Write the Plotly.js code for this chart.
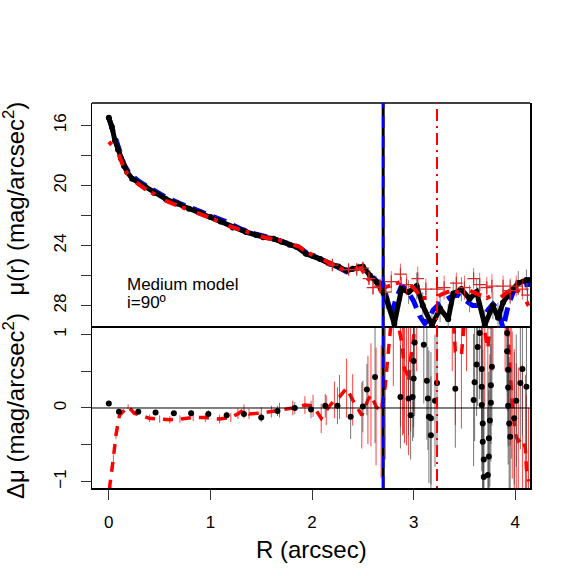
<!DOCTYPE html>
<html>
<head>
<meta charset="utf-8">
<script src="https://cdn.plot.ly/plotly-3.0.1.min.js"></script>
<style>
  body { margin: 0; background: #fff; }
  #grafica { width: 576px; height: 576px; }
</style>
</head>
<body>
<div id="grafica"></div>
<script>
// surface brightness profile (black points)
var R_obs  = [0.00,0.03,0.06,0.09,0.12,0.15,0.18,0.23,0.30,0.36,0.45,0.56,0.67,0.79,0.90,1.00,1.10,1.22,1.35,1.45,1.52,1.62,1.70,1.78,1.85,1.94,2.01,2.08,2.17,2.26,2.34,2.40,2.46,2.50,2.57,2.63,2.68,
              2.73,2.81,2.88,2.95,3.03,3.09,3.18,3.26,3.34,3.39,3.47,3.55,3.62,3.70,3.78,3.83,3.88,3.95,4.03,4.11,4.15];
var mu_obs = [15.5,16.1,17.0,17.6,18.2,18.7,19.1,19.55,19.85,20.1,20.5,20.9,21.2,21.55,21.8,22.1,22.4,22.8,23.1,23.3,23.44,23.55,23.75,23.95,24.1,24.55,24.7,24.9,25.2,25.4,25.67,25.55,25.45,25.4,26.0,26.4,26.9,
              27.55,29.2,26.9,27.1,26.7,28.0,29.3,28.2,28.9,27.2,26.9,27.55,27.1,29.3,28.0,28.8,27.8,27.1,26.5,26.3,26.3];
var err_obs = [0.03,0.03,0.03,0.03,0.03,0.03,0.03,0.03,0.03,0.03,0.03,0.03,0.03,0.03,0.03,0.03,0.03,0.03,0.04,0.04,0.05,0.05,0.05,0.06,0.06,0.07,0.08,0.1,0.12,0.15,0.2,0.2,0.25,0.3,0.35,0.4,0.5,
               0.7,0.9,0.8,0.8,0.9,0.9,1.0,0.9,1.0,0.8,0.8,0.9,0.9,1.0,0.9,1.0,0.9,0.8,0.8,0.7,0.7];

// model (blue)
var R_mod  = [0.00,0.03,0.06,0.10,0.15,0.20,0.30,0.40,0.55,0.70,0.85,1.00,1.15,1.30,1.45,1.60,1.75,1.85,1.95,2.08,2.20,2.34,2.42,2.50,2.57,2.64,2.70,
              2.74,2.78,2.83,2.88,2.93,3.00,3.06,3.11,3.16,3.19,3.25,3.37,3.44,3.52,3.58,3.67,3.73,3.78,3.83,3.88,3.93,3.98,4.04,4.11,4.15];
var mu_mod = [15.5,16.1,16.9,17.7,18.6,19.2,19.75,20.15,20.75,21.2,21.6,21.95,22.4,22.9,23.25,23.5,23.85,24.05,24.5,24.85,25.25,25.75,25.55,25.45,25.95,26.4,26.6,
              27.6,28.6,27.5,26.7,26.9,27.7,28.7,29.2,28.8,28.3,27.9,27.4,27.3,27.7,28.0,28.0,28.3,27.9,28.3,29.5,28.0,27.1,26.7,26.6,26.6];

// second profile (red dashed)
var R_red  = [0.00,0.06,0.10,0.14,0.18,0.25,0.35,0.45,0.55,0.68,0.80,0.92,1.05,1.18,1.30,1.42,1.55,1.68,1.80,1.87,1.96,2.05,2.15,2.25,2.33,2.40,2.48,2.55,2.60,2.66,
              2.72,2.80,2.88,2.95,3.01,3.08,3.14,3.23,3.29,3.37,3.44,3.52,3.62,3.72,3.78,3.85,3.92,4.00,4.08,4.13];
var mu_red = [17.1,17.5,18.0,18.7,19.2,19.7,20.2,20.6,21.0,21.35,21.65,21.95,22.3,22.7,22.95,23.2,23.5,23.65,23.95,24.05,24.5,24.75,25.1,25.45,25.7,25.6,25.5,26.2,26.6,26.9,
              26.8,26.6,26.4,26.5,26.9,27.5,27.5,27.4,27.2,27.0,27.1,26.9,27.2,27.5,27.3,27.5,27.1,26.9,27.3,28.0];

// red crosses
var R_plus   = [2.20,2.36,2.44,2.50,2.56,2.60,2.67,2.72,2.78,2.87,2.93,3.04,3.12,3.23,3.30,3.42,3.50,3.59,3.65,3.72,3.77,3.88,3.95,4.01,4.07,4.12];
var mu_plus  = [25.3,25.6,25.6,25.5,26.2,26.8,26.7,27.1,26.4,25.9,26.6,26.2,26.9,26.9,26.8,26.5,26.8,26.2,26.6,26.8,26.7,26.7,27.0,26.7,26.9,27.3];
var err_plus = [0.2,0.3,0.3,0.3,0.4,0.5,0.5,0.6,0.7,0.7,0.7,0.8,0.7,0.8,0.8,0.7,0.8,0.7,0.8,0.7,0.8,0.7,0.8,0.7,0.7,0.8];

// residuals (black)
var R_res  = [0.00,0.10,0.29,0.46,0.64,0.81,0.98,1.16,1.33,1.50,1.66,1.83,1.99,2.13,2.25,2.38,2.50,2.54,2.62,
              2.87,2.95,2.97,2.99,3.00,3.00,3.01,3.10,3.13,3.14,3.15,3.17,3.17,3.21,3.23,3.41,3.59,3.60,3.62,3.63,3.65,3.67,3.67,3.67,3.68,3.68,3.69,3.69,
              3.73,3.74,3.74,3.75,3.76,3.76,3.77,3.92,3.92,3.93,3.93,3.93,3.94,3.95,3.99,4.01,4.05,4.07,4.11];
var d_res  = [0.06,-0.05,-0.05,-0.06,-0.07,-0.07,-0.08,-0.10,-0.08,-0.13,-0.04,0.00,-0.02,0.03,0.03,-0.12,0.02,0.25,0.42,
              0.15,0.13,-0.10,0.15,0.40,0.64,0.89,0.86,0.37,0.13,-0.12,-0.14,-0.37,0.10,0.34,0.26,0.11,0.35,0.59,0.83,1.02,0.53,0.29,0.04,-0.21,-0.46,-0.70,-0.94,
              -0.91,-0.66,-0.41,-0.17,0.07,0.31,0.56,1.02,0.77,0.52,0.28,0.03,-0.21,-0.39,-0.14,0.10,0.34,0.53,0.29];
var err_res = [0.02,0.02,0.03,0.03,0.03,0.04,0.05,0.05,0.06,0.06,0.07,0.08,0.12,0.16,0.25,0.3,0.35,0.35,0.9,
               0.7,0.5,0.6,0.6,0.8,0.9,1.0,0.8,0.8,0.7,0.9,0.9,0.8,0.9,1.0,0.8,0.9,0.8,0.7,0.8,0.9,0.8,0.8,0.9,1.0,1.0,1.0,1.0,
               0.9,0.9,0.9,0.9,0.8,0.8,0.8,0.8,0.8,0.8,0.8,0.8,0.9,0.9,0.9,0.9,0.9,0.9,0.9];

// residuals (red dashed)
var R_rres  = [0.00,0.01,0.045,0.07,0.105,0.19,0.25,0.40,0.50,0.60,0.70,0.83,0.95,1.09,1.20,1.27,1.33,1.38,1.50,1.60,1.68,1.81,1.93,2.01,2.09,2.14,2.22,2.27,2.34,2.40,2.49,2.55,2.58,2.63,2.68,
               2.72,2.80,2.87,2.89,2.90,2.91,2.93,2.95,2.97,3.00,3.03,3.38,3.41,3.47,3.52,3.68,3.70,3.73,3.78,3.90,3.93,3.95,3.96,3.97,3.99,4.01,4.03,4.07,4.10,4.11,4.13];
var d_rres  = [-1.6,-1.05,-0.68,-0.37,-0.10,0.02,-0.07,-0.14,-0.15,-0.16,-0.15,-0.13,-0.13,-0.15,-0.13,-0.08,-0.02,-0.08,-0.07,-0.05,-0.03,0.00,0.04,0.03,-0.14,-0.03,0.11,0.15,0.27,0.11,-0.10,0.11,0.18,0.02,-0.05,
               0.30,1.50,0.95,0.83,0.65,0.52,0.49,0.36,0.68,0.95,1.50,1.50,0.77,0.72,1.50,1.50,1.04,0.81,1.50,1.50,0.95,0.49,0.31,0.04,-0.20,-0.39,-0.45,-0.41,-0.55,-0.82,-1.00];
var err_rres = [0.05,0.05,0.05,0.05,0.03,0.03,0.03,0.05,0.05,0.05,0.05,0.05,0.06,0.06,0.06,0.07,0.07,0.07,0.08,0.08,0.1,0.1,0.12,0.15,0.2,0.2,0.25,0.3,0.4,0.35,0.45,0.6,0.7,0.8,0.9,
                1.0,1.2,1.2,1.2,1.0,1.0,1.0,1.0,1.0,1.0,1.0,1.0,1.0,1.0,1.0,1.0,1.0,1.0,1.0,1.0,1.0,1.0,1.0,1.0,1.0,1.0,1.0,1.0,1.0,1.0,1.0];

var R_cut = 2.7, R_cut2 = 3.23;

var fnt = 'Liberation Sans, Arial, Helvetica, sans-serif';

var data = [
  { x: R_mod, y: mu_mod, xaxis: 'x2', yaxis: 'y2', type: 'scatter', mode: 'lines',
    line: { color: 'blue', width: 5, dash: '14px,8px' } },
  { x: R_obs, y: mu_obs, xaxis: 'x2', yaxis: 'y2', type: 'scatter', mode: 'lines+markers',
    line: { color: 'black', width: 5 }, marker: { color: 'black', size: 6 },
    error_y: { type: 'data', array: err_obs, color: 'rgba(80,80,80,0.7)', thickness: 1, width: 0 } },
  { x: R_red, y: mu_red, xaxis: 'x2', yaxis: 'y2', type: 'scatter', mode: 'lines',
    line: { color: 'red', width: 4, dash: '4px,12px,12px,6px' } },
  { x: R_plus, y: mu_plus, xaxis: 'x2', yaxis: 'y2', type: 'scatter', mode: 'markers',
    marker: { symbol: 'cross-thin-open', size: 9, line: { color: 'red', width: 1.2 } },
    error_y: { type: 'data', array: err_plus, color: 'rgba(255,0,0,0.6)', thickness: 1, width: 0 } },
  { x: R_rres, y: d_rres, xaxis: 'x', yaxis: 'y', type: 'scatter', mode: 'lines',
    line: { color: 'red', width: 3.5, dash: '10px,8px' },
    error_y: { type: 'data', array: err_rres, color: 'rgba(255,0,0,0.75)', thickness: 1, width: 0 } },
  { x: R_res, y: d_res, xaxis: 'x', yaxis: 'y', type: 'scatter', mode: 'markers',
    marker: { color: 'black', size: 6 },
    error_y: { type: 'data', array: err_res, color: 'rgba(60,60,60,0.7)', thickness: 1, width: 0 } }
];

var axBase = {
  showline: true, mirror: true, linecolor: 'black', linewidth: 1.5,
  showgrid: false, zeroline: false,
  ticks: 'outside', ticklen: 10, tickwidth: 1, tickcolor: '#333',
  tickfont: { family: fnt, size: 17, color: 'black' }, ticklabelstandoff: 8
};

var layout = {
  width: 576, height: 576,
  margin: { l: 92, r: 46, t: 103, b: 88 },
  paper_bgcolor: 'white', plot_bgcolor: 'white',
  showlegend: false,
  font: { family: fnt, color: 'black' },
  xaxis: Object.assign({}, axBase, { anchor: 'y', domain: [0, 1], range: [-0.1655, 4.145],
    tickvals: [0, 1, 2, 3, 4] }),
  xaxis2: Object.assign({}, axBase, { anchor: 'y2', domain: [0, 1], matches: 'x',
    showline: false, ticks: '', showticklabels: false }),
  yaxis: Object.assign({}, axBase, { anchor: 'x', domain: [0, 0.4156], range: [-1.088, 1.088],
    tickvals: [-1, 0, 1], ticktext: ['\u22121', '0', '1'], tickangle: -90,
    minor: { tickvals: [-0.5, 0.5], ticks: 'outside', ticklen: 10, tickwidth: 1, tickcolor: '#333', showgrid: false } }),
  yaxis2: Object.assign({}, axBase, { anchor: 'x2', domain: [0.4156, 1], range: [29.49, 14.51],
    tickvals: [16, 20, 24, 28], tickangle: -90,
    minor: { tickvals: [18, 22, 26], ticks: 'outside', ticklen: 10, tickwidth: 1, tickcolor: '#333', showgrid: false } }),
  shapes: [
    { type: 'line', xref: 'paper', x0: 0, x1: 1, yref: 'paper', y0: 1, y1: 1,
      line: { color: 'black', width: 1.5 } },
    { type: 'line', xref: 'paper', x0: 0, x1: 1, yref: 'y', y0: 0, y1: 0,
      line: { color: 'black', width: 1 } },
    { type: 'line', xref: 'x', x0: R_cut, x1: R_cut, yref: 'paper', y0: 0, y1: 1,
      line: { color: 'black', width: 3 } },
    { type: 'line', xref: 'x', x0: R_cut, x1: R_cut, yref: 'paper', y0: 0, y1: 1,
      line: { color: 'blue', width: 2.5, dash: '12px,8px' } },
    { type: 'line', xref: 'x', x0: R_cut2, x1: R_cut2, yref: 'paper', y0: 0, y1: 1,
      line: { color: 'red', width: 2, dash: '2px,5px,12px,5px' } }
  ],
  annotations: [
    { xref: 'x2', yref: 'y2', x: 0.155, y: 26.62, xanchor: 'left', yanchor: 'middle', showarrow: false,
      text: 'Medium model', font: { size: 17 } },
    { xref: 'x2', yref: 'y2', x: 0.155, y: 27.82, xanchor: 'left', yanchor: 'middle', showarrow: false,
      text: 'i=90º', font: { size: 17 } },
    { xref: 'paper', yref: 'paper', x: -0.178, y: 0.752, xanchor: 'center', yanchor: 'middle', showarrow: false,
      textangle: -90, text: 'μ(r) (mag/arcsec<sup>2</sup>)', font: { size: 24 } },
    { xref: 'paper', yref: 'paper', x: -0.178, y: 0.213, xanchor: 'center', yanchor: 'middle', showarrow: false,
      textangle: -90, text: 'Δμ (mag/arcsec<sup>2</sup>)', font: { size: 24 } },
    { xref: 'paper', yref: 'paper', x: 0.5, y: -0.161, xanchor: 'center', yanchor: 'middle', showarrow: false,
      text: 'R (arcsec)', font: { size: 24 } }
  ]
};

Plotly.newPlot('grafica', data, layout, { displayModeBar: false, staticPlot: true });
</script>
</body>
</html>
